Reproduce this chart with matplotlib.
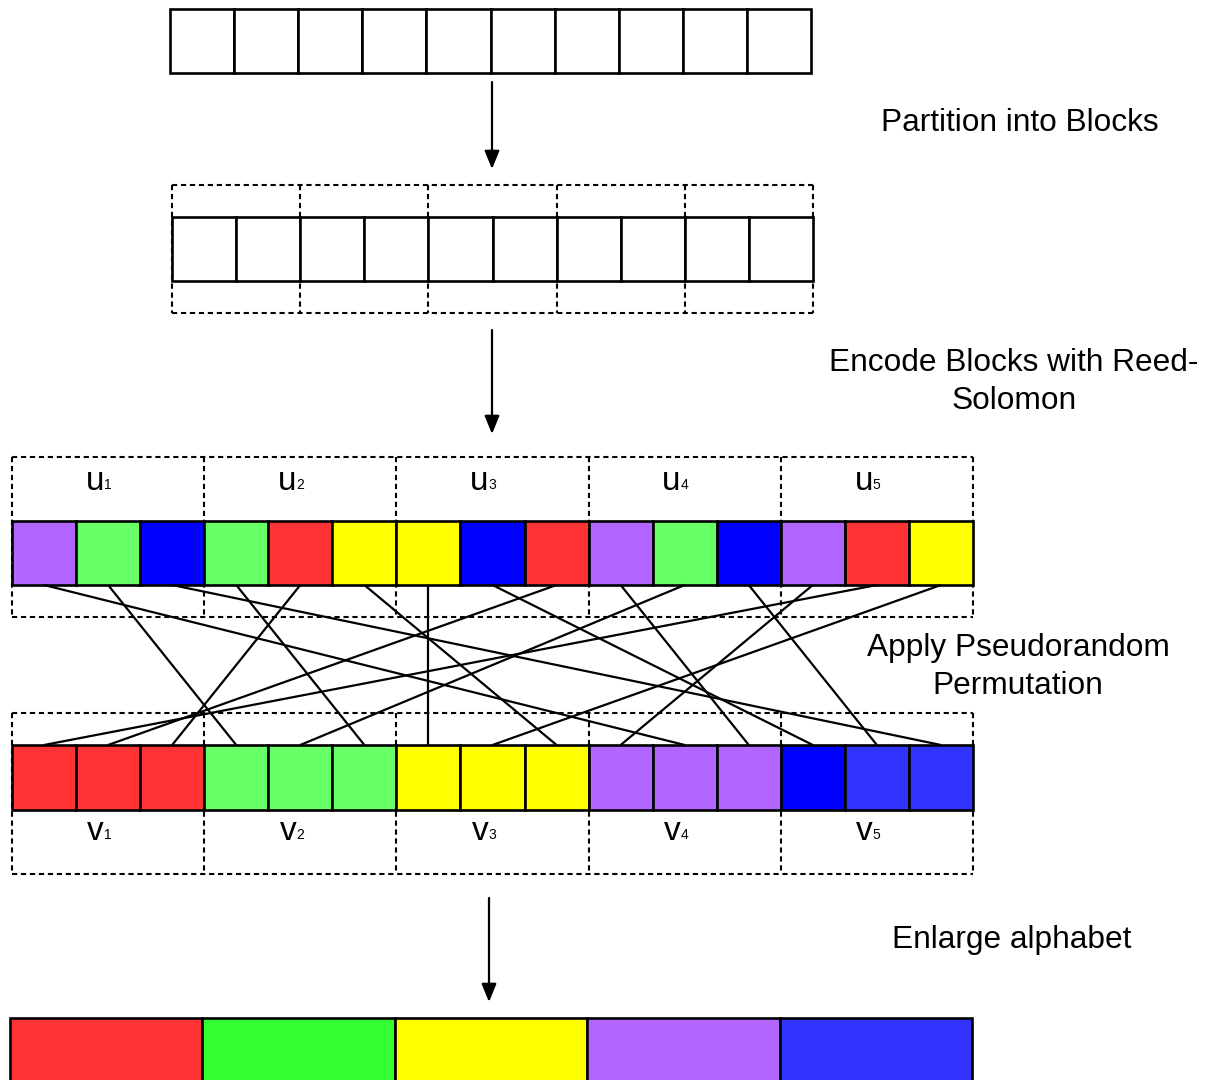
import matplotlib
matplotlib.use("Agg")
import matplotlib.pyplot as plt
from matplotlib.patches import Rectangle

plt.rcParams['font.family'] = ['Liberation Sans', 'DejaVu Sans']

# ---------------- data ----------------
n_top_cells = 10
n_blocks = 5
cells_per_block_rs = 3
u_labels = ["u", "u", "u", "u", "u"]
v_labels = ["v", "v", "v", "v", "v"]
block_numbers = ["1", "2", "3", "4", "5"]
u_colors = ["purple", "green", "blue", "green", "red",
            "yellow", "yellow", "blue", "red", "purple",
            "green", "blue", "purple", "red", "yellow"]
v_colors = ["red", "red", "red", "green", "green", "green",
            "yellow", "yellow", "yellow", "purple", "purple", "purple",
            "blue", "blue2", "blue2"]
permutation = [10, 3, 14, 5, 2, 8, 6, 12, 1, 11, 4, 13, 9, 0, 7]
final_colors = ["red", "green2", "yellow", "purple", "blue2"]
step_labels = ["Partition into Blocks", "Encode Blocks with Reed-\nSolomon",
               "Apply Pseudorandom\nPermutation", "Enlarge alphabet"]

palette = {"purple": "#b266ff", "green": "#66ff66", "blue": "#0000ff",
           "red": "#ff3333", "yellow": "#ffff00", "blue2": "#3333ff",
           "green2": "#33ff33"}

# ---------------- figure ----------------
fig = plt.figure(figsize=(12.09, 10.80), dpi=100)
ax = fig.add_axes([0, 0, 1, 1])
ax.set_xlim(0, 1209)
ax.set_ylim(1080, 0)
ax.axis("off")

LW = 1.9
DASH = dict(color="black", lw=1.5, linestyle=(0, (2.5, 1.8)), zorder=2,
            solid_capstyle="butt", dash_capstyle="butt")


def cell(x, y, w, h, fc="white", z=3):
    ax.add_patch(Rectangle((x, y), w, h, facecolor=fc, edgecolor="black", lw=LW, zorder=z))


def dashed_blocks(x0, bw, n, y0, y1):
    xr = x0 + n * bw
    ax.plot([x0, xr], [y0, y0], **DASH)
    ax.plot([x0, xr], [y1, y1], **DASH)
    for b in range(n + 1):
        xb = x0 + b * bw
        ax.plot([xb, xb], [y0, y1], **DASH)


def arrow(x, y0, y1):
    ax.annotate("", xy=(x, y1), xytext=(x, y0),
                arrowprops=dict(arrowstyle="-|>,head_length=1.1,head_width=0.45",
                                lw=1.6, color="black", shrinkA=0, shrinkB=0))


# Row 1: plain cells
x0, w = 170, 64.1
for i in range(n_top_cells):
    cell(x0 + i * w, 9, w, 64)

arrow(492, 82, 169)

# Row 2: partitioned
x0 = 172
for i in range(n_top_cells):
    cell(x0 + i * w, 217, w, 64)
dashed_blocks(x0, 2 * w, n_blocks, 185, 313)

arrow(492, 330, 434)

# Row 3: encoded (u) and permuted (v)
cw = (973 - 12) / 15
bw3 = cw * cells_per_block_rs
dashed_blocks(12, bw3, n_blocks, 457, 617)
dashed_blocks(12, bw3, n_blocks, 713, 874)
for b in range(n_blocks):
    cx = 12 + b * bw3 + bw3 / 2
    ax.text(cx - 4, 481, u_labels[b], fontsize=24, ha="right", va="center")
    ax.text(cx - 4, 485, block_numbers[b], fontsize=10, ha="left", va="center")
    ax.text(cx - 4, 831, v_labels[b], fontsize=24, ha="right", va="center")
    ax.text(cx - 4, 835, block_numbers[b], fontsize=10, ha="left", va="center")

for i, c in enumerate(u_colors):
    cell(12 + i * cw, 521, cw, 64, palette[c])
for i, c in enumerate(v_colors):
    cell(12 + i * cw, 745, cw, 65, palette[c])

# permutation lines
for i, j in enumerate(permutation):
    ax.plot([12 + (i + 0.5) * cw, 12 + (j + 0.5) * cw], [585, 745],
            color="black", lw=1.6, zorder=4, solid_capstyle="butt")

arrow(489, 898, 1002)

# Final row
fw = (972 - 10) / 5
for i, c in enumerate(final_colors):
    cell(10 + i * fw, 1018, fw, 80, palette[c])

# Step labels
FS = 22.8
ax.text(1020, 123, step_labels[0], fontsize=FS, ha="center", va="center")
ax.text(1014, 382, step_labels[1], fontsize=FS, ha="center", va="center", linespacing=1.36)
ax.text(1018, 667, step_labels[2], fontsize=FS, ha="center", va="center", linespacing=1.36)
ax.text(1012, 940, step_labels[3], fontsize=FS, ha="center", va="center")

fig.savefig("out.png", dpi=100)
